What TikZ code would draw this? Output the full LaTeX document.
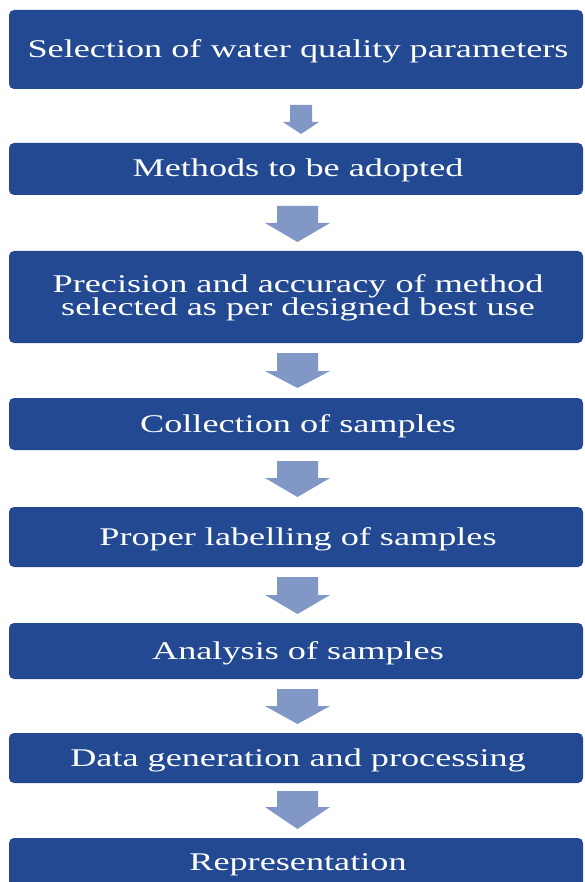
\documentclass[tikz,border=0pt]{standalone}
\usepackage{fontspec}
\setmainfont{Liberation Serif}
\definecolor{boxblue}{RGB}{34,73,145}
\definecolor{arrblue}{RGB}{129,151,197}
\newcommand\blockarr[7]{% name, cx, top, headstart, tip, shaft half, head half
  \coordinate (#1) at (#2,#3);
  \fill[arrblue] ($(#1)+(-#6,0)$) -- ($(#1)+(#6,0)$) -- (#2+#6,#4) -- (#2+#7,#4) -- (#2,#5) -- (#2-#7,#4) -- (#2-#6,#4) -- cycle;}
\newcommand\wtext[1]{\scalebox{1.42}[1]{#1}}
\usetikzlibrary{calc}
\begin{document}
\begin{tikzpicture}[x=1pt,y=-1pt,
  stepbox/.style={fill=boxblue,rounded corners=5pt,inner sep=0pt},
  lbl/.style={text=white,anchor=base,inner sep=0pt,font=\fontsize{25.5}{23}\selectfont}]
\useasboundingbox (0,0) rectangle (584,882);
\fill[white] (0,0) rectangle (584,882);
% boxes
\path[stepbox] (9,10) rectangle (583,89) node[midway] (b1) {};
\path[stepbox] (9,143) rectangle (583,195) node[midway] (b2) {};
\path[stepbox] (9,251) rectangle (583,343) node[midway] (b3) {};
\path[stepbox] (9,398) rectangle (583,450) node[midway] (b4) {};
\path[stepbox] (9,507) rectangle (583,567) node[midway] (b5) {};
\path[stepbox] (9,623) rectangle (583,679) node[midway] (b6) {};
\path[stepbox] (9,733) rectangle (583,783) node[midway] (b7) {};
\path[stepbox] (9,838) rectangle (583,900) node[midway] (b8) {};
% labels
\node[lbl] (t1) at (298,58) {\wtext{Selection of water quality parameters}};
\node[lbl] (t2) at (298,177) {\wtext{Methods to be adopted}};
\node[lbl] (t3a) at (298,292) {\wtext{Precision and accuracy of method}};
\node[lbl] (t3b) at (298,315) {\wtext{selected as per designed best use}};
\node[lbl] (t4) at (298,432.5) {\wtext{Collection of samples}};
\node[lbl] (t5) at (298,545.5) {\wtext{Proper labelling of samples}};
\node[lbl] (t6) at (298,659.5) {\wtext{Analysis of samples}};
\node[lbl] (t7) at (298,766.5) {\wtext{Data generation and processing}};
\node[lbl] (t8) at (298,870.5) {\wtext{Representation}};
% block arrows
\blockarr{a1}{301}{105}{122}{134}{11}{18}
\blockarr{a2}{297.5}{206}{223}{242}{20.5}{32.5}
\blockarr{a3}{297.5}{353}{371}{388}{20.5}{32.5}
\blockarr{a4}{297.5}{461}{478}{497}{20.5}{32.5}
\blockarr{a5}{297.5}{577}{595}{614}{20.5}{32.5}
\blockarr{a6}{297.5}{689}{706}{724}{20.5}{32.5}
\blockarr{a7}{297.5}{791}{807}{829}{20.5}{32.5}
\end{tikzpicture}
\end{document}
